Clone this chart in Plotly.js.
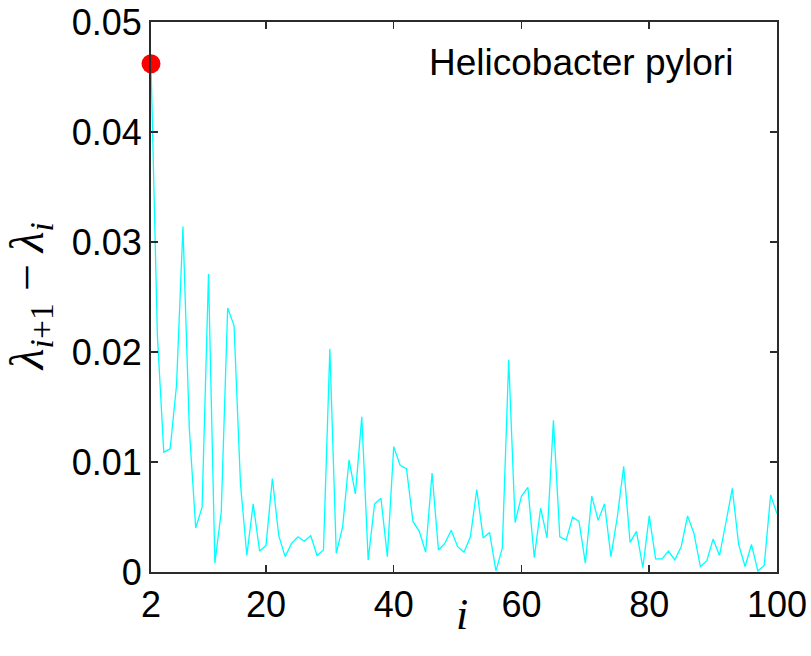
<!DOCTYPE html>
<html>
<head>
<meta charset="utf-8">
<script src="https://cdn.plot.ly/plotly-3.0.1.min.js"></script>
<style>html,body{margin:0;padding:0;background:#fff;}#chart{width:811px;height:656px;}</style>
</head>
<body>
<div id="chart"></div>
<script>
const idx = [];
for (let i = 2; i <= 100; i++) idx.push(i);
const gaps = [
  0.0462, 0.0215, 0.0109, 0.0112, 0.0170, 0.0314, 0.0130, 0.0040, 0.0059,
  0.0271, 0.0008, 0.0055, 0.0240, 0.0224, 0.0081, 0.0015, 0.0062, 0.0019,
  0.0024, 0.0085, 0.0033, 0.0014, 0.0026, 0.0032, 0.0028, 0.0033, 0.0015,
  0.0020, 0.0203, 0.0017, 0.0041, 0.0102, 0.0071, 0.0141, 0.0011, 0.0062,
  0.0067, 0.0014, 0.0114, 0.0097, 0.0094, 0.0046, 0.0037, 0.0018, 0.0090,
  0.0020, 0.0026, 0.0038, 0.0023, 0.0018, 0.0032, 0.0075, 0.0031, 0.0036,
  0.0001, 0.0022, 0.0193, 0.0045, 0.0069, 0.0077, 0.0013, 0.0058, 0.0031,
  0.0138, 0.0032, 0.0029, 0.0050, 0.0046, 0.0008, 0.0069, 0.0047, 0.0062,
  0.0014, 0.0050, 0.0096, 0.0027, 0.0037, 0.0004, 0.0051, 0.0012, 0.0012,
  0.0019, 0.0011, 0.0023, 0.0051, 0.0035, 0.0005, 0.0010, 0.0030, 0.0015,
  0.0045, 0.0076, 0.0025, 0.0005, 0.0025, 0.0001, 0.0006, 0.0070, 0.0053
];
const highlightX = [2];
const highlightY = [0.0462];
const xTicks = [2, 20, 40, 60, 80, 100];
const yTicks = [0, 0.01, 0.02, 0.03, 0.04, 0.05];
const yTickText = ['0', '0.01', '0.02', '0.03', '0.04', '0.05'];
const label = 'Helicobacter pylori';
const xTitle = '<i>i</i>';
const yTitle = '<i>λ</i><sub><i>i</i>+1</sub> − <i>λ</i><sub><i>i</i></sub>';

const traces = [
  {x: idx, y: gaps, type: 'scatter', mode: 'lines',
   line: {color: '#00FFFF', width: 1.3}, hoverinfo: 'x+y'},
  {x: highlightX, y: highlightY, type: 'scatter', mode: 'markers',
   marker: {color: '#FF0000', size: 19}, cliponaxis: false}
];
const sans = 'Liberation Sans, Arial, sans-serif';
const serif = 'Liberation Serif, Times New Roman, serif';
const axisCommon = {
  showline: true, linecolor: '#2b2b2b', linewidth: 2, mirror: 'ticks',
  ticks: 'inside', ticklen: 7, tickwidth: 1.5, tickcolor: '#2b2b2b',
  showgrid: false, zeroline: false,
  tickfont: {family: sans, size: 36, color: '#000'}
};
const layout = {
  width: 811, height: 656,
  margin: {l: 151, r: 34, t: 22, b: 84},
  paper_bgcolor: '#fff', plot_bgcolor: '#fff',
  showlegend: false,
  xaxis: Object.assign({}, axisCommon, {
    range: [2, 100], tickvals: xTicks, ticktext: xTicks.map(String)
  }),
  yaxis: Object.assign({}, axisCommon, {
    range: [0, 0.05], tickvals: yTicks, ticktext: yTickText
  }),
  annotations: [
    {text: label, xref: 'paper', yref: 'paper', x: 0.687, y: 0.927,
     xanchor: 'center', yanchor: 'middle', showarrow: false,
     font: {family: sans, size: 37, color: '#000'}},
    {text: xTitle, xref: 'paper', yref: 'paper', x: 0.497, y: -0.078,
     xanchor: 'center', yanchor: 'middle', showarrow: false,
     font: {family: serif, size: 44, color: '#000'}},
    {text: yTitle, xref: 'paper', yref: 'paper', x: -0.193, y: 0.5,
     xanchor: 'center', yanchor: 'middle', showarrow: false, textangle: -90,
     font: {family: serif, size: 48, color: '#000'}}
  ]
};
Plotly.newPlot('chart', traces, layout, {displayModeBar: false, staticPlot: true});
</script>
</body>
</html>
